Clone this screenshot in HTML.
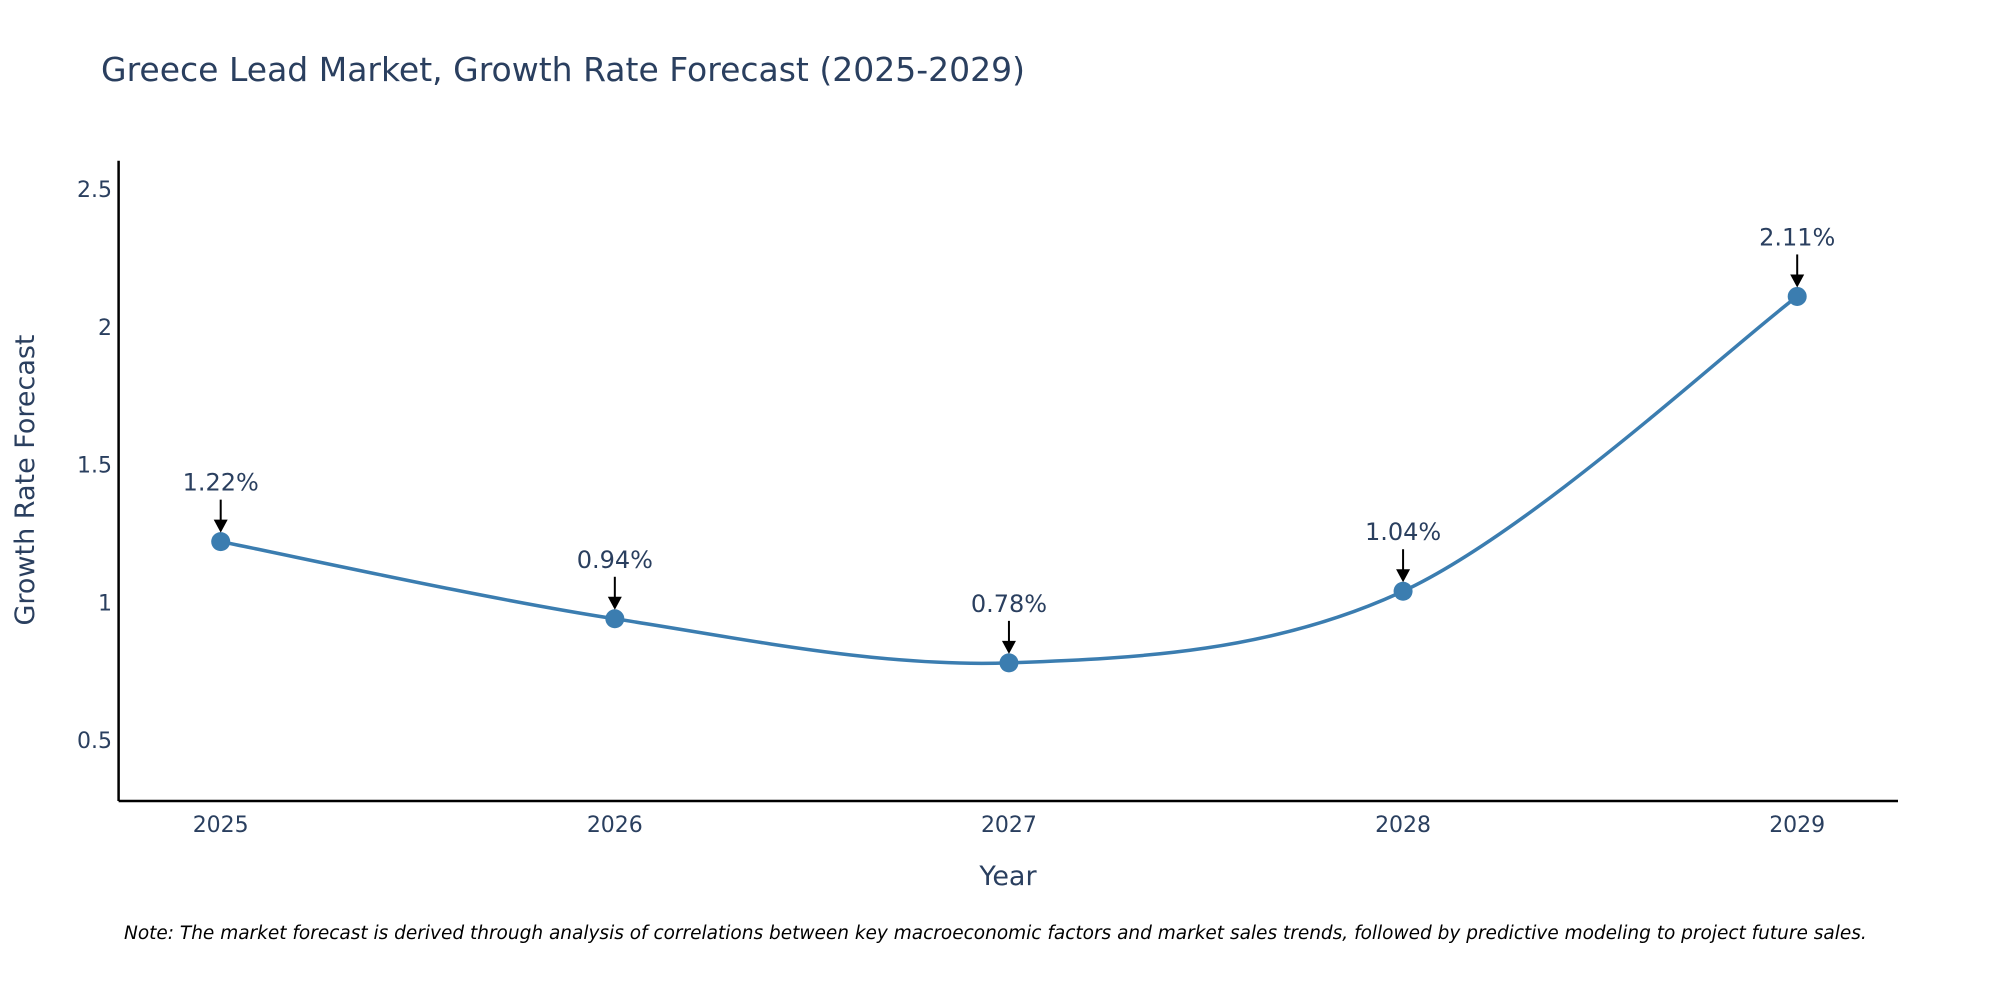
<!DOCTYPE html>
<html><head><meta charset="utf-8"><style>
html,body{margin:0;padding:0;background:#fff;}
svg{display:block;font-family:"DejaVu Sans","Liberation Sans",sans-serif;}
</style></head><body>
<svg id="chart" width="2000" height="1000" viewBox="0 0 2000 1000">
<text x="101" y="81" font-size="33" fill="#2a3f5f">Greece Lead Market, Growth Rate Forecast (2025-2029)</text>
<g id="yticks"></g><g id="xticks"></g>
<line x1="118.6" y1="160.7" x2="118.6" y2="801" stroke="#000" stroke-width="2.5"/>
<line x1="118.6" y1="801" x2="1898" y2="801" stroke="#000" stroke-width="2.5"/>
<text transform="translate(34,480) rotate(-90)" text-anchor="middle" font-size="27" fill="#2a3f5f">Growth Rate Forecast</text>
<text x="1008" y="885" text-anchor="middle" font-size="27" fill="#2a3f5f">Year</text>
<g id="series"></g>
<text x="124" y="939" font-size="18.5" font-style="italic" fill="#000">Note: The market forecast is derived through analysis of correlations between key macroeconomic factors and market sales trends, followed by predictive modeling to project future sales.</text>
</svg>
<script>
const years = [2025, 2026, 2027, 2028, 2029];
const growth = [1.22, 0.94, 0.78, 1.04, 2.11];
const labels = ["1.22%", "0.94%", "0.78%", "1.04%", "2.11%"];
const yTicks = [0.5, 1, 1.5, 2, 2.5];
const yTickLabels = ["0.5", "1", "1.5", "2", "2.5"];

const NS = "http://www.w3.org/2000/svg";
function xs(v){ return 220.7 + (v - 2025) * (1797.2 - 220.7) / 4; }
function ys(v){ return 740 - (v - 0.5) * 275.5; }
function mk(tag, attrs, parent){ const e = document.createElementNS(NS, tag); for (const k in attrs) e.setAttribute(k, attrs[k]); parent.appendChild(e); return e; }

const yg = document.getElementById('yticks');
yTicks.forEach((t, i) => {
  const el = mk('text', {x: 112, y: ys(t) + 8, 'text-anchor': 'end', 'font-size': 22, fill: '#2a3f5f'}, yg);
  
  
  el.textContent = yTickLabels[i];
});
const xg = document.getElementById('xticks');
years.forEach(y => {
  const el = mk('text', {x: xs(y), y: 832, 'text-anchor': 'middle', 'font-size': 22, fill: '#2a3f5f'}, xg);
  
  
  el.textContent = String(y);
});

const sg = document.getElementById('series');
const pts = years.map((y, i) => [xs(y), ys(growth[i])]);
let d = `M${pts[0][0]},${pts[0][1]}`;
const s = 0.33;
for (let i = 0; i < pts.length - 1; i++) {
  const p0 = pts[Math.max(0, i - 1)], p1 = pts[i], p2 = pts[i + 1], p3 = pts[Math.min(pts.length - 1, i + 2)];
  const c1 = [p1[0] + (p2[0] - p0[0]) * s / 2, p1[1] + (p2[1] - p0[1]) * s / 2];
  const c2 = [p2[0] - (p3[0] - p1[0]) * s / 2, p2[1] - (p3[1] - p1[1]) * s / 2];
  d += ` C${c1[0]},${c1[1]} ${c2[0]},${c2[1]} ${p2[0]},${p2[1]}`;
}
const line = mk('path', {d: d, fill: 'none', stroke: '#3b7db0', 'stroke-width': 3.5}, sg);



pts.forEach((p, i) => {
  const c = mk('circle', {cx: p[0], cy: p[1], r: 9.5, fill: '#3b7db0'}, sg);
  
  
  const a = mk('line', {x1: p[0], y1: p[1] - 42, x2: p[0], y2: p[1] - 18, stroke: '#000', 'stroke-width': 2}, sg);
  
  
  const h = mk('polygon', {points: `${p[0]-7},${p[1]-22} ${p[0]+7},${p[1]-22} ${p[0]},${p[1]-9}`, fill: '#000'}, sg);
  
  
  const t = mk('text', {x: p[0], y: p[1] - 51, 'text-anchor': 'middle', 'font-size': 24, fill: '#2a3f5f'}, sg);
  
  
  t.textContent = labels[i];
});
</script>
</body></html>
